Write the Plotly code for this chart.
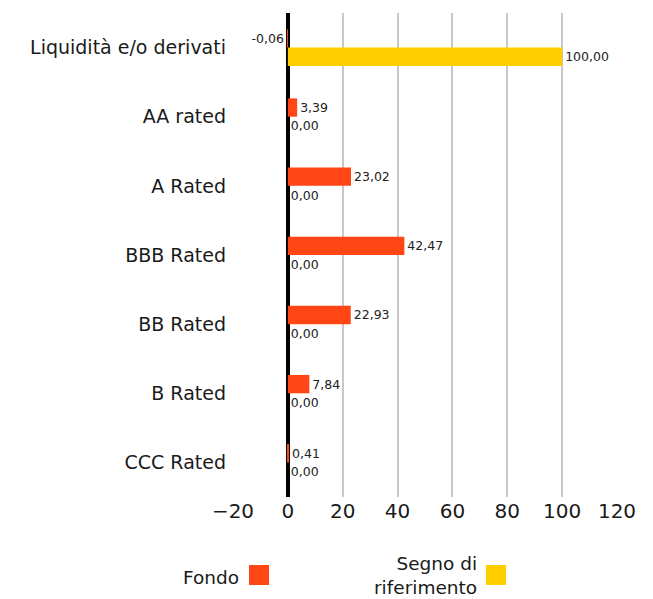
import plotly.graph_objects as go

categories = ["Liquidità e/o derivati", "AA rated", "A Rated", "BBB Rated", "BB Rated", "B Rated", "CCC Rated"]
fondo = [-0.06, 3.39, 23.02, 42.47, 22.93, 7.84, 0.41]
benchmark = [100.00, 0.00, 0.00, 0.00, 0.00, 0.00, 0.00]
x_ticks = [-20, 0, 20, 40, 60, 80, 100, 120]
series_names = ["Fondo", "Segno di riferimento"]
colors = ["#FF4614", "#FFCE00"]

FONT = "DejaVu Sans, Verdana, sans-serif"

# page body has an 8px default margin
OFF = 8
W, H = 653 - OFF, 599 - OFF
L, T = 233 - OFF, 13 - OFF
R = W - (617 - OFF)
B = H - (497 - OFF)
pw, ph = W - L - R, H - T - B

def px(x):
    return (x - OFF - L) / pw

def py(y):
    return (H - B - (y - OFF)) / ph

fig = go.Figure()
fig.add_trace(go.Bar(
    y=categories, x=fondo, orientation="h", name=series_names[0],
    marker=dict(color=colors[0], line=dict(width=0)),
    texttemplate="%{x:.2f}", textposition="outside", cliponaxis=False,
    textfont=dict(size=12.5, color="#222222", family=FONT),
))
fig.add_trace(go.Bar(
    y=categories, x=benchmark, orientation="h", name=series_names[1],
    marker=dict(color=colors[1], line=dict(width=0)),
    texttemplate="%{x:.2f}", textposition="outside", cliponaxis=False,
    textfont=dict(size=12.5, color="#222222", family=FONT),
))

fig.update_layout(
    width=W, height=H,
    margin=dict(l=L, r=R, t=T, b=B),
    paper_bgcolor="white", plot_bgcolor="white",
    barmode="group", bargap=0.47, bargroupgap=0,
    separators=",.",
    showlegend=False,
    font=dict(family=FONT, color="#1a1a1a"),
    xaxis=dict(
        range=[-20, 120], tickvals=x_ticks,
        showgrid=True, gridcolor="#c8c8c8", gridwidth=2,
        zeroline=True, zerolinecolor="#000000", zerolinewidth=4,
        showline=False, ticks="",
        tickfont=dict(size=20, color="#1a1a1a", family=FONT),
    ),
    yaxis=dict(
        autorange="reversed", showgrid=False, zeroline=False, showline=False,
        ticks="", ticklabelstandoff=6,
        tickfont=dict(size=19, color="#1a1a1a", family=FONT),
    ),
)

# Legend (text left of colour square)
fig.add_annotation(xref="paper", yref="paper", x=px(241), y=py(577),
                   text=series_names[0], showarrow=False, xanchor="right", yanchor="middle",
                   font=dict(size=18.5, color="#1a1a1a", family=FONT))
fig.add_shape(type="rect", xref="paper", yref="paper",
              x0=px(249), x1=px(269), y0=py(585), y1=py(565),
              fillcolor=colors[0], line=dict(width=0))
fig.add_annotation(xref="paper", yref="paper", x=px(479), y=py(575),
                   text="Segno di<br>riferimento", showarrow=False, xanchor="right", yanchor="middle",
                   align="right",
                   font=dict(size=18.5, color="#1a1a1a", family=FONT))
fig.add_shape(type="rect", xref="paper", yref="paper",
              x0=px(486), x1=px(506), y0=py(585), y1=py(565),
              fillcolor=colors[1], line=dict(width=0))

fig.write_html("out.html")
